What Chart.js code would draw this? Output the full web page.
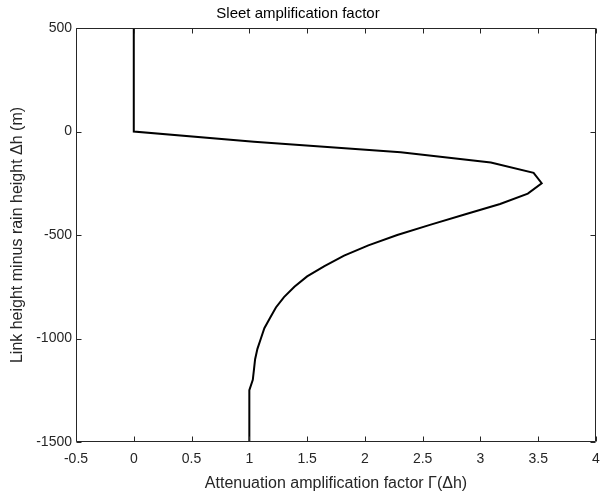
<!DOCTYPE html>
<html>
<head>
<meta charset="utf-8">
<script src="https://cdn.jsdelivr.net/npm/chart.js@4.4.1/dist/chart.umd.min.js"></script>
<style>
  html, body { margin: 0; padding: 0; background: #fff; }
  #wrap { width: 600px; height: 493px; }
</style>
</head>
<body>
<div id="wrap"><canvas id="c" width="600" height="493"></canvas></div>
<script>
// Height difference Δh (m) — link height minus rain height
const heightDiff = [500, 0, -50, -100, -150, -200, -250, -300, -350, -400, -450, -500,
  -550, -600, -650, -700, -750, -800, -850, -900, -950, -1000, -1050, -1100, -1150,
  -1200, -1250, -1500];
// Attenuation amplification factor Γ(Δh)
const gammaValues = [0, 0, 1.04, 2.31, 3.09, 3.46, 3.53, 3.41, 3.17, 2.87, 2.57, 2.28,
  2.03, 1.82, 1.65, 1.50, 1.39, 1.30, 1.23, 1.18, 1.13, 1.10, 1.07, 1.05, 1.04,
  1.03, 1.00, 1.00];
const xTicks = [-0.5, 0, 0.5, 1, 1.5, 2, 2.5, 3, 3.5, 4];
const yTicks = [-1500, -1000, -500, 0, 500];

const FONT = "'Liberation Sans', Arial, Helvetica, sans-serif";
const AXIS_COLOR = '#262626';

const points = heightDiff.map((h, i) => ({ x: gammaValues[i], y: h }));

const framePlugin = {
  id: 'frame',
  afterDraw(chart) {
    const { ctx, chartArea: a, scales } = chart;
    ctx.save();
    ctx.strokeStyle = AXIS_COLOR;
    ctx.lineWidth = 1;
    ctx.beginPath();
    const L = Math.round(a.left) + 0.5, R = Math.round(a.right) - 0.5;
    const T = Math.round(a.top) + 0.5, B = Math.round(a.bottom) - 0.5;
    ctx.rect(L, T, R - L, B - T);
    const tl = 5;
    xTicks.forEach(v => {
      const px = Math.round(scales.x.getPixelForValue(v)) + 0.5;
      ctx.moveTo(px, B); ctx.lineTo(px, B - tl);
      ctx.moveTo(px, T); ctx.lineTo(px, T + tl);
    });
    yTicks.forEach(v => {
      const py = Math.round(scales.y.getPixelForValue(v)) + 0.5;
      ctx.moveTo(L, py); ctx.lineTo(L + tl, py);
      ctx.moveTo(R, py); ctx.lineTo(R - tl, py);
    });
    ctx.stroke();
    ctx.restore();
  }
};

new Chart(document.getElementById('c'), {
  type: 'scatter',
  data: {
    datasets: [{
      data: points,
      showLine: true,
      borderColor: '#000',
      borderWidth: 2,
      pointRadius: 0,
      tension: 0,
      fill: false
    }]
  },
  options: {
    responsive: false,
    animation: false,
    devicePixelRatio: 1,
    layout: { padding: { left: 0, right: 4, top: 0, bottom: 0 } },
    plugins: {
      legend: { display: false },
      tooltip: { enabled: false },
      title: {
        display: true,
        text: 'Sleet amplification factor',
        color: '#000',
        font: { family: FONT, size: 15, weight: 'normal' },
        padding: { top: 5, bottom: 5 }
      }
    },
    scales: {
      x: {
        type: 'linear',
        min: -0.5, max: 4,
        afterBuildTicks: s => { s.ticks = xTicks.map(v => ({ value: v })); },
        afterFit: s => { s.height = 51; s.paddingLeft = 0; s.paddingRight = 0; },
        grid: { display: false, drawTicks: false },
        border: { display: false },
        ticks: {
          color: AXIS_COLOR,
          font: { family: FONT, size: 14 },
          padding: 9,
          maxRotation: 0,
          callback: v => String(v)
        },
        title: {
          display: true,
          text: 'Attenuation amplification factor Γ(Δh)',
          color: AXIS_COLOR,
          font: { family: FONT, size: 16 },
          padding: { top: 5, bottom: 0 }
        }
      },
      y: {
        type: 'linear',
        min: -1500, max: 500,
        afterBuildTicks: s => { s.ticks = yTicks.map(v => ({ value: v })); },
        afterFit: s => { s.width = 76; s.paddingTop = 0; s.paddingBottom = 0; },
        grid: { display: false, drawTicks: false },
        border: { display: false },
        ticks: {
          color: AXIS_COLOR,
          font: { family: FONT, size: 14 },
          padding: 4,
          callback: v => String(v)
        },
        title: {
          display: true,
          text: 'Link height minus rain height Δh (m)',
          color: AXIS_COLOR,
          font: { family: FONT, size: 16 },
          padding: { top: 8, bottom: 0 }
        }
      }
    }
  },
  plugins: [framePlugin]
});
</script>
</body>
</html>
